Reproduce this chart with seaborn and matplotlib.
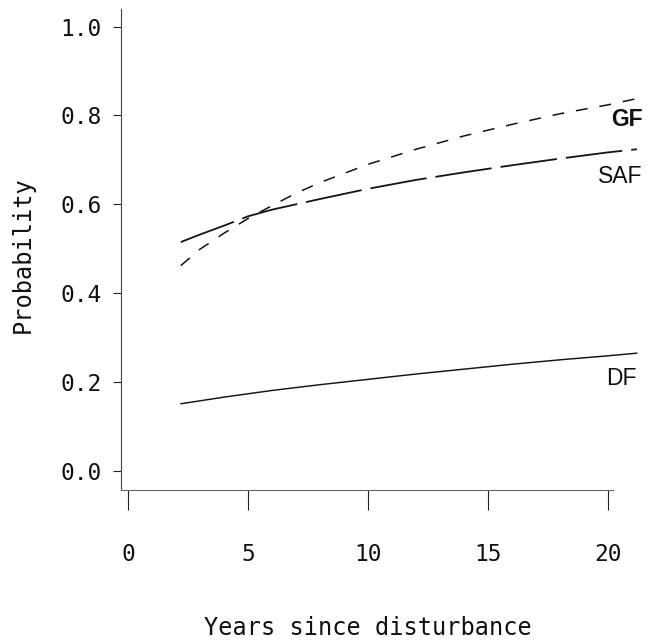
import matplotlib
matplotlib.use("Agg")
import matplotlib.pyplot as plt
import pandas as pd
import seaborn as sns

# values
years_gf = [2.2, 3, 4, 5, 6, 7, 8, 10, 12, 14, 16, 18, 20, 21.2]
prob_gf = [0.462, 0.499, 0.535, 0.568, 0.597, 0.625, 0.649, 0.690, 0.724, 0.754, 0.780, 0.804, 0.824, 0.838]

years_saf = [2.2, 3, 4, 5, 6, 8, 10, 12, 14, 16, 18, 20, 21.2]
prob_saf = [0.515, 0.532, 0.552, 0.573, 0.588, 0.612, 0.635, 0.655, 0.672, 0.688, 0.703, 0.717, 0.724]

years_df = [2.2, 4, 6, 8, 10, 12, 14, 16, 18, 20, 21.2]
prob_df = [0.151, 0.166, 0.181, 0.194, 0.206, 0.218, 0.229, 0.240, 0.250, 0.259, 0.265]

x_ticks = [0, 5, 10, 15, 20]
y_ticks = [0.0, 0.2, 0.4, 0.6, 0.8, 1.0]

LINE_COLOR = "#141414"
TEXT_COLOR = "#111111"
MONO = ["DejaVu Sans Mono"]
SANS = ["Liberation Sans", "DejaVu Sans"]

sns.set_style("ticks")
plt.rcParams["font.family"] = MONO
plt.rcParams["text.color"] = TEXT_COLOR
plt.rcParams["axes.labelcolor"] = TEXT_COLOR
plt.rcParams["xtick.labelcolor"] = TEXT_COLOR
plt.rcParams["ytick.labelcolor"] = TEXT_COLOR

fig = plt.figure(figsize=(6.54, 6.43), dpi=100)
ax = fig.add_axes([0.185, 0.238, 0.7936, 0.7475])

gf = pd.DataFrame({"year": years_gf, "prob": prob_gf})
saf = pd.DataFrame({"year": years_saf, "prob": prob_saf})
dfor = pd.DataFrame({"year": years_df, "prob": prob_df})

sns.lineplot(data=gf, x="year", y="prob", ax=ax, color=LINE_COLOR, lw=1.1,
             linestyle=(0, (7.8, 7.8)))
sns.lineplot(data=saf, x="year", y="prob", ax=ax, color=LINE_COLOR, lw=1.3,
             linestyle=(0, (31.5, 5)))
sns.lineplot(data=dfor, x="year", y="prob", ax=ax, color=LINE_COLOR, lw=1.05)

ax.text(21.45, 0.792, "GF", ha="right", va="center", fontsize=16.5,
        fontweight="bold", family=SANS)
ax.text(21.45, 0.662, "SAF", ha="right", va="center", fontsize=16.5,
        family=SANS)
ax.text(21.2, 0.209, "DF", ha="right", va="center", fontsize=16.5,
        family=SANS)

ax.set_xlim(-0.29, 21.33)
ax.set_ylim(-0.043, 1.039)
ax.set_xticks(x_ticks)
ax.set_yticks(y_ticks)
ax.set_yticklabels([f"{v:.1f}" for v in y_ticks])

sns.despine(ax=ax)
ax.spines["bottom"].set_bounds(-0.29, 20.2)
ax.spines["left"].set_color("#444444")
ax.spines["bottom"].set_color("#666666")
ax.spines["left"].set_linewidth(0.8)
ax.spines["bottom"].set_linewidth(0.8)

ax.tick_params(axis="y", length=5.8, width=0.8, pad=8, labelsize=16.5, color="#222222")
ax.tick_params(axis="x", length=14.4, width=0.8, pad=24, labelsize=16.5, color="#222222")

ax.set_xlabel("Years since disturbance", fontsize=17, va="center")
ax.set_ylabel("Probability", fontsize=17, va="center")
ax.xaxis.set_label_coords(0.476, -0.287)
ax.yaxis.set_label_coords(-0.19, 0.49)

fig.savefig("out.png", dpi=100)
